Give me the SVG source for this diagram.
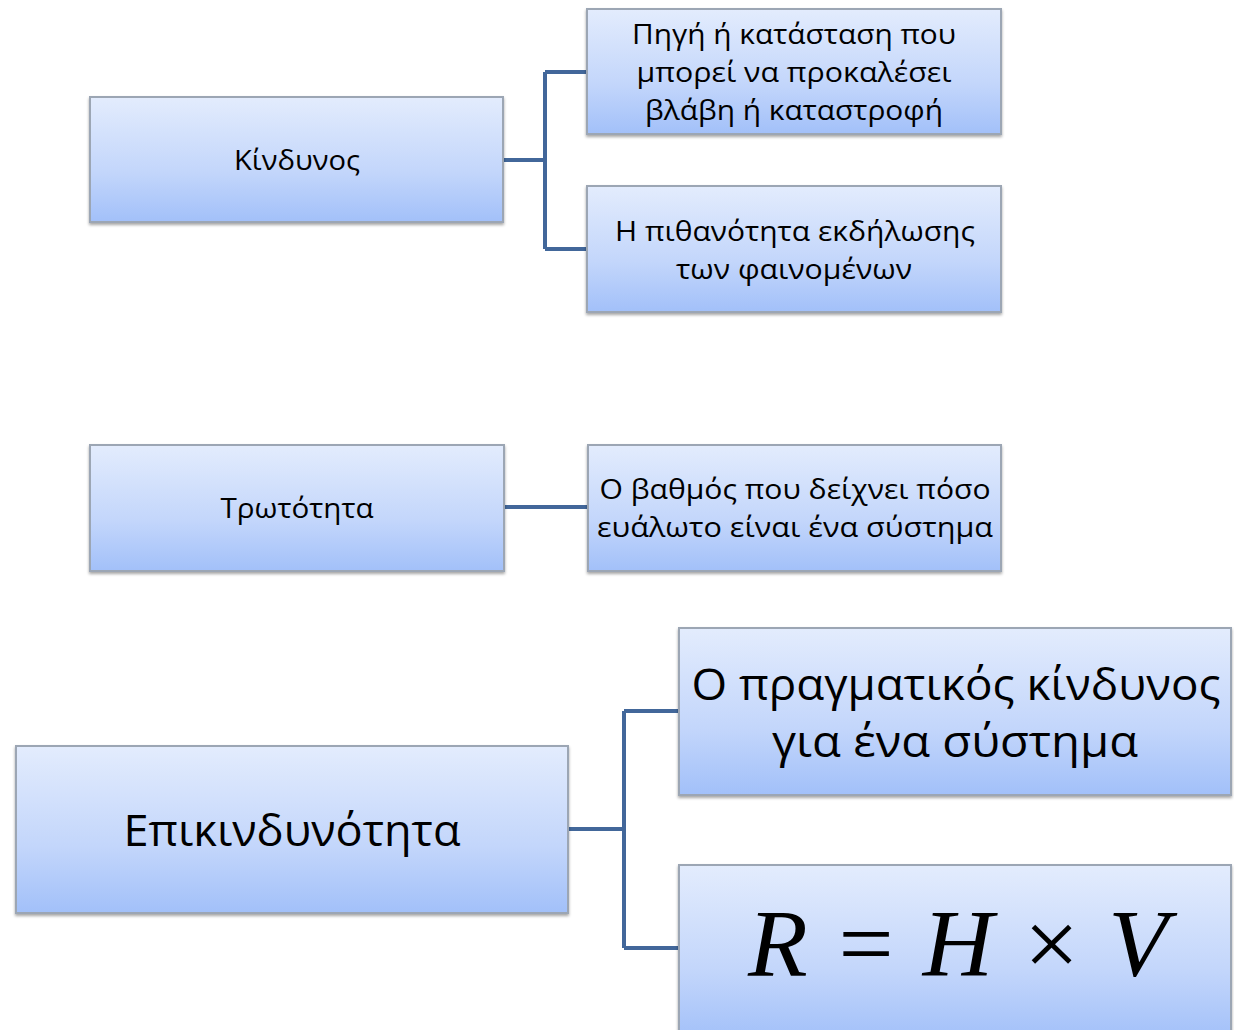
<svg xmlns="http://www.w3.org/2000/svg" width="1234" height="1030" viewBox="0 0 1234 1030">
<defs>
<linearGradient id="g" x1="0" y1="0" x2="0" y2="1">
<stop offset="0" stop-color="#e3ecfd"/>
<stop offset="0.6" stop-color="#c3d6fb"/>
<stop offset="1" stop-color="#a2c0f9"/>
</linearGradient>
<filter id="sh" x="-5%" y="-5%" width="110%" height="115%">
<feDropShadow dx="0" dy="2" stdDeviation="1.5" flood-color="#000" flood-opacity="0.35"/>
</filter>
<style>
.box{fill:url(#g);stroke:#9ca6b4;stroke-width:2;filter:url(#sh);}
.t{font-family:"Open Sans","Noto Sans",sans-serif;font-size:27px;fill:#000;text-anchor:middle;}
.tl{font-family:"Open Sans","Noto Sans",sans-serif;font-size:44px;fill:#000;text-anchor:middle;}
.f{font-family:"Liberation Serif","Times New Roman",serif;font-style:italic;font-size:95px;fill:#000;}
.c{fill:none;stroke:#42679a;stroke-width:4;}
</style>
</defs>
<rect width="1234" height="1030" fill="#fff"/>
<g id="connectors">
<path class="c" d="M503 160 H545 M545 72 V249 M545 72 H587 M545 249 H587"/>
<path class="c" d="M504 507 H588"/>
<path class="c" d="M568 829 H624 M624 711 V948 M624 711 H679 M624 948 H679"/>
</g>
<g id="kindynos">
<rect class="box" x="90" y="97" width="413" height="125"/>
<text class="t" x="297" y="170" textLength="126" lengthAdjust="spacingAndGlyphs">Κίνδυνος</text>
</g>
<g id="pigi">
<rect class="box" x="587" y="9" width="414" height="125"/>
<text class="t" x="794" y="44" textLength="324" lengthAdjust="spacingAndGlyphs">Πηγή ή κατάσταση που</text>
<text class="t" x="794" y="82" textLength="315" lengthAdjust="spacingAndGlyphs">μπορεί να προκαλέσει</text>
<text class="t" x="794" y="120" textLength="298" lengthAdjust="spacingAndGlyphs">βλάβη ή καταστροφή</text>
</g>
<g id="pithanotita">
<rect class="box" x="587" y="186" width="414" height="126"/>
<text class="t" x="795" y="241" textLength="360" lengthAdjust="spacingAndGlyphs">Η πιθανότητα εκδήλωσης</text>
<text class="t" x="794" y="279" textLength="236" lengthAdjust="spacingAndGlyphs">των φαινομένων</text>
</g>
<g id="trototita">
<rect class="box" x="90" y="445" width="414" height="126"/>
<text class="t" x="297" y="518" textLength="153" lengthAdjust="spacingAndGlyphs">Τρωτότητα</text>
</g>
<g id="vathmos">
<rect class="box" x="588" y="445" width="413" height="126"/>
<text class="t" x="795" y="499" textLength="391" lengthAdjust="spacingAndGlyphs">Ο βαθμός που δείχνει πόσο</text>
<text class="t" x="795" y="537" textLength="396" lengthAdjust="spacingAndGlyphs">ευάλωτο είναι ένα σύστημα</text>
</g>
<g id="epikindynotita">
<rect class="box" x="16" y="746" width="552" height="167"/>
<text class="tl" x="292" y="846" textLength="337" lengthAdjust="spacingAndGlyphs">Επικινδυνότητα</text>
</g>
<g id="pragmatikos">
<rect class="box" x="679" y="628" width="552" height="167"/>
<text class="tl" x="956" y="700" textLength="529" lengthAdjust="spacingAndGlyphs">Ο πραγματικός κίνδυνος</text>
<text class="tl" x="955" y="757" textLength="366" lengthAdjust="spacingAndGlyphs">για ένα σύστημα</text>
</g>
<g id="formula">
<rect class="box" x="679" y="865" width="552" height="175"/>
<text class="f" x="748" y="976" textLength="420" lengthAdjust="spacingAndGlyphs">R = H × V</text>
</g>
</svg>
